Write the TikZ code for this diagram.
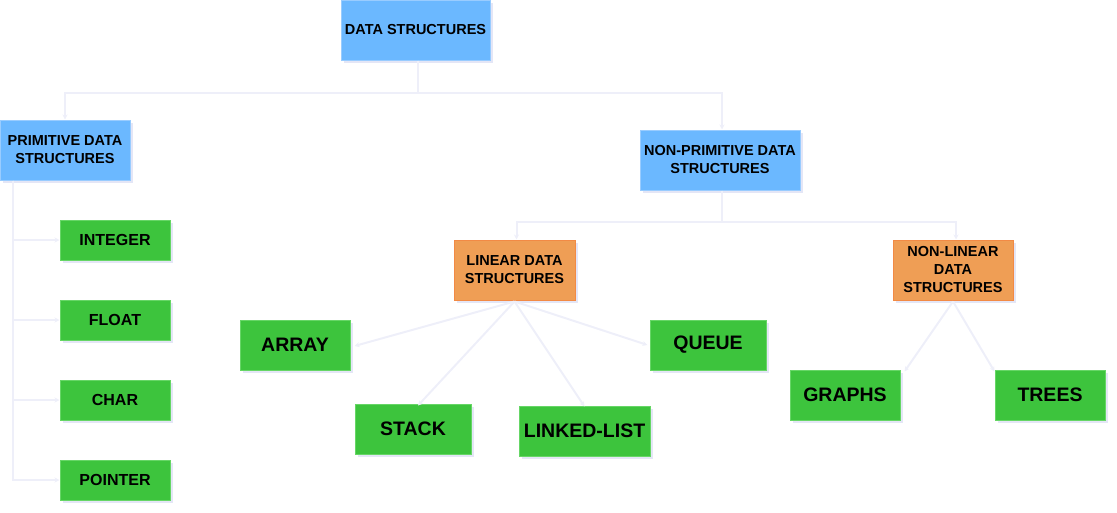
\documentclass[tikz,border=0pt]{standalone}
\usepackage{fontspec}
\setmainfont{Liberation Sans}
\usetikzlibrary{arrows.meta,shadows}
\definecolor{bluefill}{HTML}{6BB8FF}
\definecolor{blueline}{HTML}{99CCFF}
\definecolor{orangefill}{HTML}{EF9E55}
\definecolor{orangeline}{HTML}{F28A45}
\definecolor{greenfill}{HTML}{3DC43D}
\definecolor{greenline}{HTML}{66D666}
\definecolor{lineC}{HTML}{EEEFF9}
\definecolor{shadowC}{HTML}{E4E6F6}
\tikzset{
  box/.style={draw, line width=1pt, align=center, inner sep=0pt, font=\bfseries,
    drop shadow={shadow xshift=2.5pt, shadow yshift=-2.5pt, fill=shadowC, opacity=1}},
  bluebox/.style={box, fill=bluefill, draw=blueline, font=\fontsize{14.5}{18}\selectfont\bfseries},
  orangebox/.style={box, fill=orangefill, draw=orangeline, font=\fontsize{14.5}{18}\selectfont\bfseries},
  smallgreen/.style={box, fill=greenfill, draw=greenline, minimum width=110pt, minimum height=40pt, font=\fontsize{16}{19}\selectfont\bfseries},
  biggreen/.style={box, fill=greenfill, draw=greenline, minimum height=50pt, font=\fontsize{19.5}{22}\selectfont\bfseries},
  conn/.style={draw=lineC, line width=2pt, -{Stealth[length=5pt,width=5pt]}},
  plain/.style={draw=lineC, line width=2pt},
}
\begin{document}
\begin{tikzpicture}[x=1pt,y=-1pt]
\useasboundingbox (0,0) rectangle (1117,512);
% nodes
\node[bluebox, minimum width=149pt, minimum height=60pt] (ds) at (415.5,30) {DATA STRUCTURES};
\node[bluebox, minimum width=130pt, minimum height=60pt] (prim) at (65,150) {PRIMITIVE DATA\\STRUCTURES};
\node[bluebox, minimum width=160pt, minimum height=60pt] (nonprim) at (720,160) {NON-PRIMITIVE DATA\\STRUCTURES};
\node[orangebox, minimum width=121pt, minimum height=60pt] (lin) at (514.5,270) {LINEAR DATA\\STRUCTURES};
\node[orangebox, minimum width=120pt, minimum height=60pt] (nonlin) at (953,270) {NON-LINEAR\\DATA\\STRUCTURES};
\node[smallgreen] (int) at (115,240) {INTEGER};
\node[smallgreen] (flt) at (115,320) {FLOAT};
\node[smallgreen] (chr) at (115,400) {CHAR};
\node[smallgreen] (ptr) at (115,480) {POINTER};
\node[biggreen, minimum width=110pt] (arr) at (295,345) {ARRAY};
\node[biggreen, minimum width=116pt] (que) at (708,345) {QUEUE};
\node[biggreen, minimum width=116pt] (stk) at (413,429) {STACK};
\node[biggreen, minimum width=131pt] (ll) at (584.5,431) {LINKED-LIST};
\node[biggreen, minimum width=110pt] (gr) at (845,395) {GRAPHS};
\node[biggreen, minimum width=110pt] (tr) at (1050,395) {TREES};
% connectors
\coordinate (dsb) at ([xshift=2.5pt]ds.south);
\draw[conn] (dsb) -- ++(0,32) -| (prim.north);
\draw[conn] (dsb) -- ++(0,32) -| ([xshift=2pt]nonprim.north);
\coordinate (pv) at ([xshift=13pt]prim.south west);
\draw[conn] (pv) |- (int.west);
\draw[conn] (pv) |- (flt.west);
\draw[conn] (pv) |- (chr.west);
\draw[conn] (pv) |- (ptr.west);
\coordinate (npb) at ([xshift=2pt]nonprim.south);
\draw[conn] (npb) -- ++(0,31) -| ([xshift=2pt]lin.north);
\draw[conn] (npb) -- ++(0,31) -| ([xshift=3pt]nonlin.north);
\coordinate (lb) at ([yshift=-1pt]lin.south);
\draw[conn] (lb) -- ([xshift=4pt,yshift=-1pt]arr.east);
\draw[conn] (lb) -- ([xshift=-2pt]que.west);
\draw[conn] (lb) -- ([xshift=5pt,yshift=-2pt]stk.north);
\draw[conn] (lb) -- ([yshift=-1pt]ll.north);
\coordinate (nlb) at ([yshift=-1pt]nonlin.south);
\draw[conn] (nlb) -- ([xshift=4pt,yshift=-2pt]gr.north east);
\draw[conn] (nlb) -- ([yshift=-2pt]tr.north west);
\end{tikzpicture}
\end{document}
